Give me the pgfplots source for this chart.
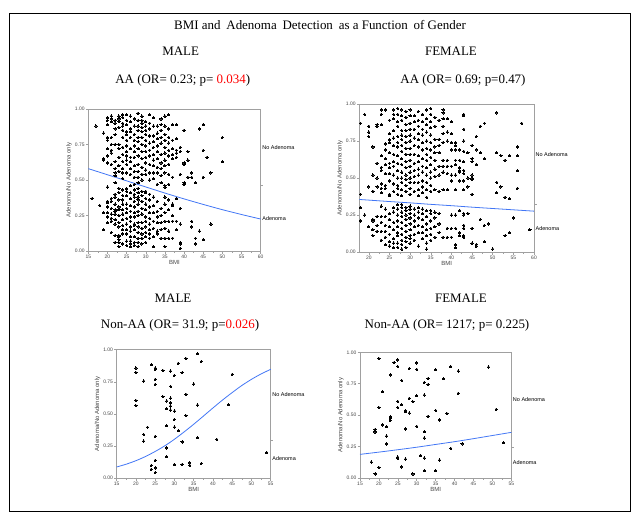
\documentclass[border=0pt]{standalone}
\usepackage{fontspec}
\setmainfont{Liberation Serif}
\setsansfont{Liberation Sans}
\usepackage{pgfplots}
\usepackage{pgfplotstable}
\pgfplotsset{compat=1.18}

\definecolor{jmpblue}{RGB}{66,118,245}
\definecolor{framegray}{RGB}{160,160,160}
\definecolor{ticktext}{RGB}{70,70,70}

% Male, advanced adenoma
\pgfplotstableread[row sep=\\]{x y\\
16 0.37\\17 0.88\\18 0.32\\
19 0.83\\19 0.65\\19 0.64\\19 0.27\\19 0.15\\
20 0.94\\20 0.92\\20 0.89\\20 0.80\\20 0.78\\20 0.72\\20 0.67\\20 0.62\\20 0.45\\20 0.35\\20 0.34\\20 0.31\\20 0.27\\20 0.24\\20 0.20\\
21 0.95\\21 0.93\\21 0.91\\21 0.80\\21 0.75\\21 0.71\\21 0.69\\21 0.61\\21 0.37\\21 0.35\\21 0.30\\21 0.26\\21 0.23\\21 0.21\\21 0.13\\
22 0.92\\22 0.90\\22 0.86\\22 0.82\\22 0.75\\22 0.63\\22 0.58\\22 0.55\\22 0.53\\22 0.48\\22 0.40\\22 0.38\\22 0.33\\22 0.29\\22 0.28\\22 0.26\\22 0.22\\22 0.19\\22 0.11\\22 0.06\\
23 0.95\\23 0.93\\23 0.91\\23 0.87\\23 0.75\\23 0.72\\23 0.66\\23 0.60\\23 0.56\\23 0.44\\23 0.41\\23 0.36\\23 0.31\\23 0.29\\23 0.25\\23 0.20\\23 0.17\\23 0.11\\23 0.10\\23 0.08\\23 0.06\\23 0.03\\
24 0.96\\24 0.94\\24 0.90\\24 0.88\\24 0.85\\24 0.80\\24 0.73\\24 0.68\\24 0.63\\24 0.58\\24 0.55\\24 0.51\\24 0.43\\24 0.39\\24 0.36\\24 0.33\\24 0.29\\24 0.26\\24 0.22\\24 0.18\\24 0.15\\24 0.12\\24 0.05\\
25 0.96\\25 0.92\\25 0.89\\25 0.84\\25 0.82\\25 0.78\\25 0.74\\25 0.70\\25 0.67\\25 0.64\\25 0.61\\25 0.55\\25 0.44\\25 0.42\\25 0.39\\25 0.33\\25 0.30\\25 0.27\\25 0.23\\25 0.19\\25 0.15\\25 0.12\\25 0.07\\25 0.04\\
26 0.95\\26 0.91\\26 0.86\\26 0.84\\26 0.80\\26 0.72\\26 0.66\\26 0.63\\26 0.58\\26 0.54\\26 0.46\\26 0.41\\26 0.37\\26 0.32\\26 0.28\\26 0.24\\26 0.21\\26 0.17\\26 0.14\\26 0.10\\26 0.07\\26 0.05\\26 0.03\\
27 0.93\\27 0.88\\27 0.82\\27 0.78\\27 0.74\\27 0.70\\27 0.66\\27 0.60\\27 0.56\\27 0.52\\27 0.47\\27 0.43\\27 0.40\\27 0.38\\27 0.35\\27 0.31\\27 0.27\\27 0.24\\27 0.19\\27 0.18\\27 0.15\\27 0.10\\27 0.06\\27 0.04\\
28 0.97\\28 0.92\\28 0.88\\28 0.85\\28 0.80\\28 0.77\\28 0.72\\28 0.67\\28 0.61\\28 0.56\\28 0.52\\28 0.48\\28 0.44\\28 0.41\\28 0.38\\28 0.36\\28 0.33\\28 0.28\\28 0.25\\28 0.20\\28 0.17\\28 0.13\\28 0.09\\28 0.06\\28 0.03\\
29 0.95\\29 0.92\\29 0.90\\29 0.87\\29 0.84\\29 0.80\\29 0.75\\29 0.70\\29 0.65\\29 0.59\\29 0.54\\29 0.50\\29 0.42\\29 0.39\\29 0.35\\29 0.30\\29 0.26\\29 0.20\\29 0.16\\29 0.12\\29 0.09\\29 0.05\\
30 0.91\\30 0.88\\30 0.85\\30 0.82\\30 0.78\\30 0.74\\30 0.70\\30 0.66\\30 0.62\\30 0.57\\30 0.54\\30 0.42\\30 0.41\\30 0.37\\30 0.33\\30 0.29\\30 0.24\\30 0.21\\30 0.17\\30 0.13\\30 0.10\\30 0.06\\
31 0.96\\31 0.90\\31 0.86\\31 0.81\\31 0.76\\31 0.71\\31 0.67\\31 0.61\\31 0.55\\31 0.50\\31 0.40\\31 0.36\\31 0.31\\31 0.27\\31 0.23\\31 0.19\\31 0.15\\31 0.12\\31 0.09\\
32 0.94\\32 0.88\\32 0.81\\32 0.77\\32 0.73\\32 0.68\\32 0.64\\32 0.60\\32 0.55\\32 0.51\\32 0.38\\32 0.32\\32 0.27\\32 0.21\\32 0.16\\32 0.10\\32 0.03\\
33 0.88\\33 0.83\\33 0.79\\33 0.74\\33 0.70\\33 0.65\\33 0.59\\33 0.55\\33 0.47\\33 0.35\\33 0.28\\33 0.24\\33 0.20\\33 0.14\\33 0.12\\
34 0.93\\34 0.89\\34 0.85\\34 0.80\\34 0.76\\34 0.68\\34 0.62\\34 0.58\\34 0.53\\34 0.48\\34 0.30\\34 0.25\\34 0.20\\34 0.15\\34 0.09\\
35 0.95\\35 0.88\\35 0.82\\35 0.78\\35 0.73\\35 0.69\\35 0.64\\35 0.60\\35 0.55\\35 0.46\\35 0.45\\35 0.38\\35 0.33\\35 0.27\\35 0.21\\35 0.16\\35 0.09\\35 0.03\\
36 0.96\\36 0.86\\36 0.80\\36 0.76\\36 0.71\\36 0.67\\36 0.61\\36 0.54\\36 0.47\\36 0.36\\36 0.29\\36 0.21\\36 0.14\\36 0.09\\
37 0.89\\37 0.78\\37 0.72\\37 0.68\\37 0.65\\37 0.52\\37 0.33\\37 0.32\\37 0.25\\37 0.21\\37 0.09\\
38 0.89\\38 0.79\\38 0.71\\38 0.69\\38 0.66\\38 0.37\\38 0.21\\38 0.15\\
39 0.73\\39 0.70\\39 0.54\\39 0.30\\39 0.19\\39 0.06\\39 0.05\\39 0.02\\
40 0.85\\40 0.62\\40 0.61\\40 0.48\\40 0.47\\
41 0.70\\41 0.64\\41 0.52\\
42 0.55\\42 0.52\\42 0.21\\42 0.17\\
43 0.48\\43 0.09\\43 0.05\\
44 0.86\\44 0.14\\
45 0.89\\45 0.71\\45 0.52\\45 0.08\\
46 0.66\\47 0.55\\47 0.19\\
50 0.80\\50 0.63\\
}\maleAA

% Female, advanced adenoma
\pgfplotstableread[row sep=\\]{x y\\
18 0.87\\18 0.39\\18 0.30\\18 0.21\\
19 0.93\\19 0.25\\
20 0.85\\20 0.81\\20 0.78\\20 0.44\\20 0.17\\
21 0.71\\21 0.52\\21 0.41\\21 0.22\\21 0.21\\21 0.15\\21 0.11\\
22 0.86\\22 0.85\\22 0.60\\22 0.50\\22 0.44\\22 0.24\\22 0.18\\22 0.14\\
23 0.96\\23 0.93\\23 0.86\\23 0.65\\23 0.57\\23 0.55\\23 0.46\\23 0.43\\23 0.40\\23 0.31\\23 0.24\\23 0.20\\23 0.14\\23 0.08\\
24 0.96\\24 0.73\\24 0.69\\24 0.63\\24 0.59\\24 0.53\\24 0.45\\24 0.43\\24 0.29\\24 0.24\\24 0.18\\24 0.14\\24 0.10\\24 0.05\\
25 0.89\\25 0.80\\25 0.76\\25 0.74\\25 0.67\\25 0.60\\25 0.57\\25 0.53\\25 0.48\\25 0.39\\25 0.38\\25 0.26\\25 0.22\\25 0.17\\25 0.12\\25 0.07\\25 0.04\\
26 0.96\\26 0.93\\26 0.90\\26 0.82\\26 0.77\\26 0.72\\26 0.66\\26 0.61\\26 0.58\\26 0.52\\26 0.46\\26 0.41\\26 0.30\\26 0.27\\26 0.20\\26 0.15\\26 0.09\\26 0.06\\26 0.03\\
27 0.97\\27 0.93\\27 0.88\\27 0.85\\27 0.78\\27 0.74\\27 0.71\\27 0.65\\27 0.60\\27 0.55\\27 0.50\\27 0.45\\27 0.43\\27 0.39\\27 0.32\\27 0.29\\27 0.25\\27 0.21\\27 0.17\\27 0.13\\27 0.11\\27 0.06\\27 0.03\\
28 0.96\\28 0.92\\28 0.89\\28 0.82\\28 0.79\\28 0.76\\28 0.72\\28 0.68\\28 0.63\\28 0.59\\28 0.54\\28 0.50\\28 0.47\\28 0.42\\28 0.38\\28 0.32\\28 0.30\\28 0.27\\28 0.24\\28 0.20\\28 0.16\\28 0.12\\28 0.08\\28 0.05\\28 0.02\\
29 0.95\\29 0.91\\29 0.86\\29 0.82\\29 0.78\\29 0.74\\29 0.70\\29 0.66\\29 0.61\\29 0.57\\29 0.52\\29 0.49\\29 0.45\\29 0.41\\29 0.30\\29 0.28\\29 0.25\\29 0.22\\29 0.18\\29 0.14\\29 0.10\\29 0.07\\29 0.03\\
30 0.96\\30 0.92\\30 0.87\\30 0.83\\30 0.79\\30 0.75\\30 0.70\\30 0.66\\30 0.62\\30 0.58\\30 0.54\\30 0.50\\30 0.47\\30 0.43\\30 0.39\\30 0.31\\30 0.29\\30 0.26\\30 0.23\\30 0.19\\30 0.15\\30 0.11\\30 0.09\\30 0.06\\
31 0.92\\31 0.88\\31 0.83\\31 0.77\\31 0.72\\31 0.66\\31 0.60\\31 0.55\\31 0.51\\31 0.47\\31 0.41\\31 0.29\\31 0.25\\31 0.21\\31 0.17\\31 0.12\\31 0.08\\
32 0.95\\32 0.89\\32 0.85\\32 0.80\\32 0.76\\32 0.71\\32 0.65\\32 0.61\\32 0.56\\32 0.52\\32 0.47\\32 0.42\\32 0.38\\32 0.30\\32 0.27\\32 0.23\\32 0.18\\32 0.13\\32 0.04\\
33 0.93\\33 0.88\\33 0.83\\33 0.79\\33 0.74\\33 0.69\\33 0.63\\33 0.58\\33 0.54\\33 0.48\\33 0.44\\33 0.40\\33 0.29\\33 0.26\\33 0.22\\33 0.17\\33 0.13\\33 0.09\\
34 0.96\\34 0.90\\34 0.86\\34 0.81\\34 0.75\\34 0.70\\34 0.66\\34 0.62\\34 0.57\\34 0.52\\34 0.47\\34 0.42\\34 0.37\\34 0.28\\34 0.24\\34 0.19\\34 0.15\\34 0.11\\34 0.06\\34 0.02\\
35 0.97\\35 0.93\\35 0.88\\35 0.84\\35 0.79\\35 0.74\\35 0.69\\35 0.64\\35 0.59\\35 0.54\\35 0.50\\35 0.45\\35 0.41\\35 0.28\\35 0.26\\35 0.21\\35 0.16\\35 0.12\\35 0.08\\
36 0.91\\36 0.85\\36 0.76\\36 0.71\\36 0.67\\36 0.62\\36 0.56\\36 0.51\\36 0.42\\36 0.27\\36 0.23\\36 0.17\\36 0.10\\
37 0.89\\37 0.76\\37 0.72\\37 0.67\\37 0.58\\37 0.52\\37 0.41\\37 0.26\\37 0.19\\37 0.13\\
38 0.96\\38 0.94\\38 0.90\\38 0.85\\38 0.80\\38 0.74\\38 0.62\\38 0.58\\38 0.54\\38 0.42\\38 0.10\\
39 0.90\\39 0.81\\39 0.75\\39 0.62\\39 0.58\\39 0.53\\39 0.42\\39 0.16\\39 0.10\\
40 0.88\\40 0.80\\40 0.74\\40 0.69\\40 0.58\\40 0.52\\40 0.48\\40 0.25\\40 0.16\\40 0.10\\
41 0.74\\41 0.72\\41 0.69\\41 0.62\\41 0.59\\41 0.52\\41 0.42\\41 0.25\\41 0.16\\41 0.05\\41 0.03\\
42 0.69\\42 0.62\\42 0.57\\42 0.55\\42 0.54\\42 0.48\\42 0.28\\42 0.13\\42 0.11\\
43 0.93\\43 0.92\\43 0.83\\43 0.75\\43 0.68\\43 0.61\\43 0.55\\43 0.53\\43 0.48\\43 0.42\\43 0.26\\43 0.25\\43 0.18\\43 0.16\\43 0.11\\43 0.10\\
44 0.67\\44 0.50\\44 0.44\\44 0.26\\
45 0.72\\45 0.63\\45 0.61\\45 0.52\\45 0.50\\45 0.49\\45 0.39\\45 0.16\\45 0.06\\
46 0.78\\46 0.69\\46 0.59\\46 0.05\\46 0.04\\
47 0.85\\47 0.67\\47 0.22\\
48 0.87\\48 0.63\\48 0.18\\48 0.07\\
49 0.19\\50 0.02\\
51 0.94\\51 0.67\\51 0.47\\51 0.40\\
52 0.65\\52 0.44\\
53 0.62\\53 0.37\\53 0.11\\
54 0.65\\54 0.36\\54 0.13\\
55 0.23\\
56 0.71\\56 0.65\\56 0.55\\56 0.43\\
57 0.87\\59 0.15\\
}\femaleAA

% Male, non-advanced adenoma
\pgfplotstableread[row sep=\\]{x y\\
20 0.857\\20 0.823\\20 0.605\\20 0.564\\22 0.756\\22 0.340\\22 0.288\\23 0.395\\
24 0.883\\24 0.099\\24 0.068\\25 0.857\\25 0.848\\25 0.769\\25 0.730\\25 0.325\\
25 0.138\\25 0.078\\25 0.042\\27 0.839\\27 0.634\\28 0.600\\28 0.540\\28 0.408\\
28 0.234\\28 0.166\\29 0.834\\29 0.714\\29 0.623\\29 0.587\\29 0.561\\29 0.530\\
30 0.800\\30 0.522\\30 0.457\\30 0.397\\30 0.106\\31 0.894\\31 0.369\\32 0.821\\
32 0.281\\32 0.106\\33 0.932\\33 0.652\\33 0.486\\34 0.117\\34 0.099\\35 0.732\\
36 0.969\\36 0.569\\36 0.314\\37 0.909\\37 0.114\\41 0.301\\44 0.571\\45 0.808\\
54 0.197\\
}\maleNon

% Female, non-advanced adenoma
\pgfplotstableread[row sep=\\]{x y\\
20 0.952\\24 0.920\\25 0.939\\25 0.886\\30 0.915\\23 0.820\\26 0.777\\28 0.870\\
30 0.865\\35 0.862\\39 0.886\\41 0.851\\49 0.883\\33 0.793\\32 0.761\\33 0.745\\
37 0.790\\21 0.687\\41 0.674\\30 0.655\\32 0.660\\20 0.562\\25 0.610\\26 0.584\\
25 0.560\\28 0.634\\29 0.607\\27 0.536\\27 0.528\\28 0.517\\35 0.538\\38 0.512\\
51 0.546\\23 0.488\\23 0.475\\23 0.459\\33 0.491\\36 0.462\\21 0.422\\22 0.408\\
30 0.411\\27 0.390\\19 0.387\\19 0.366\\32 0.369\\22 0.334\\32 0.318\\22 0.271\\
42 0.271\\53 0.281\\39 0.236\\18 0.127\\25 0.167\\25 0.156\\27 0.151\\31 0.180\\
32 0.159\\36 0.143\\20 0.085\\26 0.088\\32 0.058\\35 0.058\\19 0.032\\29 0.032\\
}\femaleNon

\pgfplotsset{
  jmp/.style={
    scale only axis, anchor=south west, clip=false,
    ymin=0, ymax=1,
    axis line style={framegray, line width=0.6bp},
    tick style={framegray, line width=0.5bp},
    tick align=outside, xtick pos=bottom, ytick pos=left,
    major tick length=2.5bp, minor tick length=1.5bp,
    minor x tick num=1,
    ytick={0,0.25,0.5,0.75,1},
    /pgf/number format/assume math mode=true,
    yticklabel style={/pgf/number format/.cd, fixed, fixed zerofill, precision=2},
    tick label style={font=\sffamily\fontsize{5}{6}\selectfont, text=ticktext, inner sep=1bp},
    label style={font=\sffamily\fontsize{6}{7}\selectfont, text=ticktext},
    xlabel={BMI}, ylabel={Adenoma/No Adenoma only},
    xlabel style={yshift=2.5bp}, ylabel style={yshift=-1.5bp},
  },
  dots/.style={only marks, mark=*, mark size=1.15bp,
    mark options={fill=black, draw=black, line width=0pt}},
  fit/.style={jmpblue, line width=0.8bp, no marks, smooth},
}
\tikzset{
  side/.style={anchor=west, inner sep=0pt, xshift=1.5bp,
    font=\sffamily\fontsize{5.5}{6}\selectfont},
  cut/.style={framegray, line width=0.5bp},
}
% short outward tick on the right edge at the overall proportion
\newcommand\cutmark[1]{\draw[cut] (rel axis cs:1,#1) -- ([xshift=2.5bp]rel axis cs:1,#1);}
\newcommand\wsp{\hspace{2.6bp}}

\begin{document}
\begin{tikzpicture}
\path[use as bounding box] (0,0) rectangle (637bp,-522bp);
\draw[line width=0.8bp] (9bp,-13bp) rectangle (630bp,-511bp);

% headings
\begin{scope}[every node/.style={font=\fontsize{13}{15}\selectfont}]
\node at (320bp,-25bp) {BMI and\wsp{} Adenoma\wsp{} Detection\wsp{} as a Function\wsp{} of Gender};
\node at (180.6bp,-51.7bp) {MALE};
\node at (451bp,-51.7bp) {FEMALE};
\node at (182.7bp,-80.7bp) {AA (OR= 0.23; p= \textcolor{red}{0.034})};
\node at (463bp,-80.7bp) {AA (OR= 0.69; p=0.47)};
\node at (173bp,-298bp) {MALE};
\node at (461bp,-298bp) {FEMALE};
\node at (180bp,-325bp) {Non-AA (OR= 31.9; p=\textcolor{red}{0.026})};
\node at (447bp,-325bp) {Non-AA (OR= 1217; p= 0.225)};
\end{scope}

% male AA
\begin{axis}[jmp, at={(88.3bp,-251bp)}, width=172.4bp, height=142bp,
  xmin=15, xmax=60, xtick={15,20,...,60}]
\addplot[dots] table {\maleAA};
\addplot[fit] coordinates {(15,0.580) (20,0.537) (25,0.494) (30,0.451) (35,0.408)
  (40,0.367) (45,0.328) (50,0.291) (55,0.257) (60,0.225)};
\cutmark{0.46}
\node[side] at (rel axis cs:1,0.73) {No Adenoma};
\node[side] at (rel axis cs:1,0.23) {Adenoma};
\end{axis}

% female AA
\begin{axis}[jmp, at={(359.3bp,-252bp)}, width=174.7bp, height=148bp,
  xmin=17.7, xmax=60, xtick={20,25,...,60}]
\addplot[dots] table {\femaleAA};
\addplot[fit] coordinates {(17.7,0.355) (25,0.341) (30,0.332) (35,0.322) (40,0.313)
  (45,0.303) (50,0.294) (55,0.285) (60,0.276)};
\cutmark{0.325}
\node[side] at (rel axis cs:1,0.66) {No Adenoma};
\node[side] at (rel axis cs:1,0.16) {Adenoma};
\end{axis}

% male non-AA
\begin{axis}[jmp, at={(116.7bp,-478bp)}, width=154bp, height=128.3bp,
  xmin=15, xmax=55, xtick={15,20,...,55}]
\addplot[dots] table {\maleNon};
\addplot[fit] coordinates {(15,0.086) (17.5,0.108) (20,0.135) (22.5,0.168) (25,0.207)
  (27.5,0.251) (30,0.302) (32.5,0.359) (35,0.419) (37.5,0.482) (40,0.546)
  (42.5,0.608) (45,0.666) (47.5,0.721) (50,0.769) (52.5,0.811) (55,0.847)};
\cutmark{0.296}
\node[side] at (rel axis cs:1,0.648) {No Adenoma};
\node[side] at (rel axis cs:1,0.148) {Adenoma};
\end{axis}

% female non-AA
\begin{axis}[jmp, at={(360bp,-478bp)}, width=151.3bp, height=125.7bp,
  xmin=15, xmax=55, xtick={15,20,...,55}]
\addplot[dots] table {\femaleNon};
\addplot[fit] coordinates {(15,0.188) (20,0.206) (25,0.225) (30,0.245) (35,0.267)
  (40,0.289) (45,0.313) (50,0.338) (55,0.363)};
\cutmark{0.244}
\node[side] at (rel axis cs:1,0.622) {No Adenoma};
\node[side] at (rel axis cs:1,0.122) {Adenoma};
\end{axis}
\end{tikzpicture}
\end{document}
